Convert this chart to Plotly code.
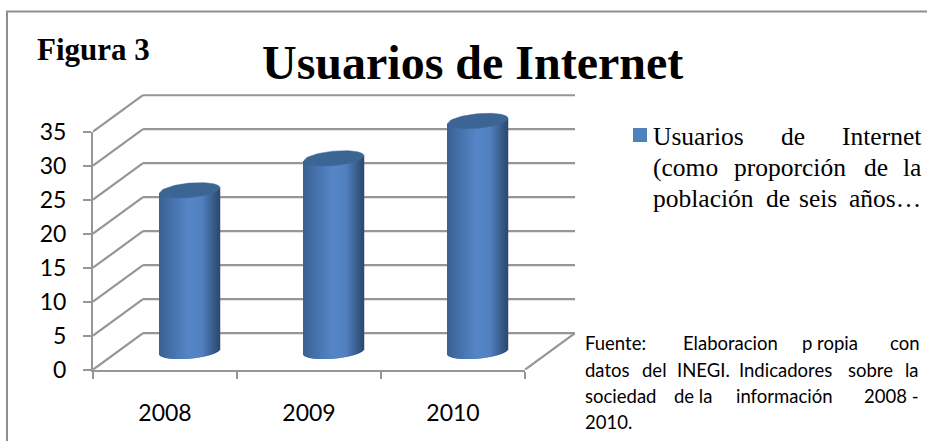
import math
import plotly.graph_objects as go

W, H = 927, 441
years = ["2008", "2009", "2010"]
users = [23.7, 28.4, 33.9]
y_ticks = [0, 5, 10, 15, 20, 25, 30, 35]
title = "Usuarios de Internet"
fig_label = "Figura 3"

PX_X = 144.0      # pixels per category
PX_Y = 6.8        # pixels per value unit
X0, Y0 = 93, 369.7
DEPTH_X = 50 / PX_X
DEPTH_Y = 36.5 / PX_Y
X_MAX = 3 + DEPTH_X
Y_MAX = 40.5

RX = 30 / PX_X
RY = 7.2 / PX_Y
TILT = 2.6 / PX_Y
N = 60


def mix(stops, t):
    for (a, ca), (b, cb) in zip(stops, stops[1:]):
        if t <= b:
            f = (t - a) / (b - a)
            return "rgb(%d,%d,%d)" % tuple(round(p + (q - p) * f) for p, q in zip(ca, cb))
    return "rgb(%d,%d,%d)" % stops[-1][1]


STOPS = [(0, (56, 96, 148)), (0.2, (68, 112, 170)), (0.5, (84, 134, 199)),
         (0.72, (80, 128, 190)), (0.9, (56, 92, 142)), (1, (44, 74, 114))]

fig = go.Figure()
# invisible trace so that the visible axes exist
fig.add_trace(go.Scatter(x=[0.5, 1.5, 2.5], y=[0, 0, 0], mode="markers", marker=dict(opacity=0, size=1),
                         xaxis="x", yaxis="y", hoverinfo="skip", showlegend=False))

shapes = []
line = dict(color="#969696", width=2.2)
for v in y_ticks:
    top = v + DEPTH_Y
    shapes.append(dict(type="line", xref="x2", yref="y2", x0=0, y0=v, x1=DEPTH_X, y1=top, line=line, layer="below"))
    shapes.append(dict(type="line", xref="x2", yref="y2", x0=DEPTH_X, y0=top, x1=X_MAX, y1=top, line=line, layer="below"))
shapes.append(dict(type="line", xref="x2", yref="y2", x0=3, y0=0, x1=X_MAX, y1=DEPTH_Y, line=line, layer="below"))
# chart frame
frame = dict(color="#8f8f8f", width=2)
shapes.append(dict(type="rect", xref="paper", yref="paper", x0=7 / W, x1=1.01, y0=-0.02, y1=1 - 11.5 / H, line=frame, layer="below"))
# legend swatch
shapes.append(dict(type="rect", xref="paper", yref="paper", x0=633 / W, x1=647 / W, y0=1 - 142 / H, y1=1 - 128 / H,
                   fillcolor="#4f81bd", line=dict(width=0)))

for i, val in enumerate(users):
    cx = i + 0.5 + DEPTH_X / 2
    base = DEPTH_Y / 2
    xs, bases, hs, cols = [], [], [], []
    for k in range(N):
        t = (k + 0.5) / N
        u = 2 * t - 1
        low = base + TILT * u - RY * math.sqrt(max(0, 1 - u * u))
        high = base + val + TILT * u
        xs.append(cx + RX * u)
        bases.append(low)
        hs.append(high - low)
        cols.append(mix(STOPS, t))
    fig.add_trace(go.Bar(x=xs, y=hs, base=bases, width=2 * RX / N * 1.5, marker=dict(color=cols, line=dict(width=0)),
                         xaxis="x2", yaxis="y2", hoverinfo="skip", showlegend=False))
    ex, ey = [], []
    for k in range(73):
        a = 2 * math.pi * k / 72
        ex.append(cx + RX * math.cos(a))
        ey.append(base + val + TILT * math.cos(a) + RY * math.sin(a))
    fig.add_trace(go.Scatter(x=ex, y=ey, mode="lines", fill="toself", fillcolor="#3c6595", line=dict(color="#3c6595", width=0.5),
                             xaxis="x2", yaxis="y2", hoverinfo="skip", showlegend=False))

SERIF = "Liberation Serif"
SANS = "Lato"
anns = []


def txt(s, x, y, font, size, anchor="left", bold=False):
    anns.append(dict(text=("<b>%s</b>" % s) if bold else s, x=x / W, y=1 - y / H, xref="paper", yref="paper",
                     xanchor=anchor, yanchor="middle", showarrow=False, borderpad=0, borderwidth=0,
                     font=dict(family=font, size=size, color="#000000")))


txt(fig_label, 37, 50, SERIF, 31, bold=True)
txt(title, 472, 62, SERIF, 48, "center", bold=True)
for s, x, y, a in [("Usuarios", 653, 136, "left"), ("de", 781, 136, "left"), ("Internet", 921, 136, "right"),
                   ("(como", 653, 167, "left"), ("proporción", 734, 167, "left"), ("de", 864, 167, "left"), ("la", 921, 167, "right"),
                   ("población", 653, 198, "left"), ("de", 766, 198, "left"), ("seis", 799, 198, "left"), ("años…", 921, 198, "right")]:
    txt(s, x, y, SERIF, 25.5, a)
for s, x, y, a in [("Fuente:", 585, 343, "left"), ("Elaboracion", 683, 343, "left"), ("p ropia", 802, 343, "left"), ("con", 919, 343, "right"),
                   ("datos", 585, 370, "left"), ("del", 642, 370, "left"), ("INEGI.", 677, 370, "left"), ("Indicadores", 739, 370, "left"), ("sobre", 848, 370, "left"), ("la", 919, 370, "right"),
                   ("sociedad", 585, 396, "left"), ("de la", 674, 396, "left"), ("información", 736, 396, "left"), ("2008 -", 919, 396, "right"),
                   ("2010.", 585, 422, "left")]:
    txt(s, x, y, SANS, 18.5, a)

fig.update_layout(
    template="none",
    width=W, height=H, margin=dict(l=0, r=0, t=0, b=0), autosize=False,
    paper_bgcolor="white", plot_bgcolor="rgba(0,0,0,0)", barmode="overlay", showlegend=False,
    shapes=shapes, annotations=anns, hovermode=False,
    xaxis=dict(domain=[X0 / W, (X0 + 3 * PX_X) / W], range=[0, 3], showgrid=False, zeroline=False, showline=True, linecolor="#969696", linewidth=2,
               tickmode="array", tickvals=[0.5, 1.5, 2.5], ticktext=years, ticks="", ticklabelstandoff=22, automargin=False,
               tickfont=dict(family=SANS, size=23, color="black"),
               minor=dict(tickmode="array", tickvals=[0, 1, 2, 3], ticks="outside", ticklen=7, tickwidth=2, tickcolor="#969696"),
               anchor="y"),
    yaxis=dict(domain=[1 - Y0 / H, 1 - (Y0 - 35 * PX_Y) / H], range=[0, 35], showgrid=False, zeroline=False, showline=True, linecolor="#969696", linewidth=2,
               tickmode="array", tickvals=y_ticks, ticks="outside", ticklen=8, tickwidth=2, tickcolor="#969696", automargin=False, ticklabelstandoff=12,
               tickfont=dict(family=SANS, size=23, color="black"), anchor="x"),
    xaxis2=dict(domain=[X0 / W, (X0 + X_MAX * PX_X) / W], range=[0, X_MAX], visible=False, anchor="y2", automargin=False),
    yaxis2=dict(domain=[1 - Y0 / H, 1 - (Y0 - Y_MAX * PX_Y) / H], range=[0, Y_MAX], visible=False, anchor="x2", automargin=False),
)
fig.write_html("out.html", config=dict(displayModeBar=False),
               post_script="document.body.style.margin='0';document.documentElement.style.overflow='hidden';")
